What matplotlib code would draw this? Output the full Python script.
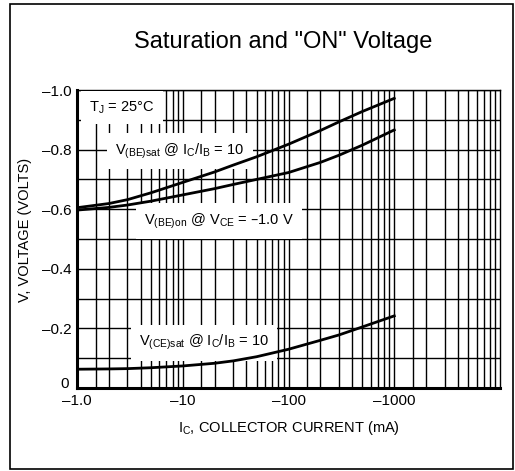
import matplotlib
matplotlib.use("Agg")
import matplotlib.pyplot as plt
from matplotlib.patches import Rectangle
import matplotlib.transforms as mtransforms
import numpy as np

plt.rcParams['font.family'] = ['Liberation Sans', 'DejaVu Sans']
plt.rcParams['mathtext.default'] = 'regular'

# collector current (mA, magnitude; shown as negative on the axis)
ic = [1, 2, 3, 5, 10, 20, 30, 50, 100, 200, 300, 500, 1000]
vbe_sat = [-0.605, -0.619, -0.632, -0.655, -0.690, -0.725, -0.748, -0.776, -0.818,
           -0.864, -0.893, -0.928, -0.972]
vbe_on = [-0.597, -0.606, -0.614, -0.627, -0.648, -0.669, -0.683, -0.700, -0.723,
          -0.757, -0.781, -0.815, -0.866]
vce_sat = [-0.063, -0.064, -0.065, -0.068, -0.074, -0.083, -0.091, -0.105, -0.130,
           -0.160, -0.178, -0.205, -0.242]

x_ticks = [1, 10, 100, 1000]
x_tick_labels = ["\u20131.0", "\u201310", "\u2013100", "\u20131000"]
y_ticks = [0, -0.2, -0.4, -0.6, -0.8, -1.0]
y_tick_labels = ["0", "\u20130.2", "\u20130.4", "\u20130.6", "\u20130.8", "\u20131.0"]

fig = plt.figure(figsize=(5.15, 4.71), dpi=100)
ax = fig.add_axes([77/515, 1 - 388/471, (500-77)/515, 298/471])

ax.set_xscale('log')
ax.set_xlim(1, 10000)
ax.set_ylim(0, -1.0)

minor_x = [m * 10**d for d in range(4) for m in [1.5, 2, 3, 4, 5, 6, 7, 8, 9]]
ax.set_xticks(x_ticks)
ax.set_xticklabels(x_tick_labels)
ax.set_xticks(minor_x, minor=True)
ax.set_yticks(y_ticks)
ax.set_yticklabels(y_tick_labels)
ax.set_yticks(np.arange(-0.1, -1.0, -0.2), minor=True)
ax.tick_params(which='both', length=0, labelsize=11, pad=4)
ax.tick_params(axis='x', which='minor', labelbottom=False)
ax.grid(True, which='both', color='black', lw=1.0)
ax.set_axisbelow(True)

# nudge the "0" label up/left so it sits clear of the "-1.0" x label
zero_lbl = ax.get_yticklabels()[0]
zero_lbl.set_transform(zero_lbl.get_transform() +
                       mtransforms.ScaledTranslation(-3/100, 5/100, fig.dpi_scale_trans))

for s in ['left', 'bottom']:
    ax.spines[s].set_linewidth(2.2)
for s in ['top', 'right']:
    ax.spines[s].set_linewidth(1.0)

ax.plot(ic, vbe_sat, color='black', lw=2.0, zorder=5)
ax.plot(ic, vbe_on, color='black', lw=2.0, zorder=5)
ax.plot(ic, vce_sat, color='black', lw=2.0, zorder=5)

box = dict(facecolor='white', edgecolor='none', pad=6)
ax.text(0.106, 0.94, "T$_J$ = 25°C", transform=ax.transAxes, ha='center', va='center',
        fontsize=10.5, bbox=box, zorder=4)
ax.text(0.243, 0.795, "V$_{(BE)sat}$ @ I$_C$/I$_B$ = 10", transform=ax.transAxes,
        ha='center', va='center', fontsize=10.5, bbox=box, zorder=4)
ax.text(0.335, 0.56, "V$_{(BE)on}$ @ V$_{CE}$ = \u20131.0 V", transform=ax.transAxes,
        ha='center', va='center', fontsize=10.5, bbox=box, zorder=4)
ax.text(0.30, 0.152, "V$_{(CE)sat}$ @ I$_C$/I$_B$ = 10", transform=ax.transAxes,
        ha='center', va='center', fontsize=10.5, bbox=box, zorder=4)

ax.set_xlabel("I$_C$, COLLECTOR CURRENT (mA)", fontsize=10.5, labelpad=8)
ax.set_ylabel("V, VOLTAGE (VOLTS)", fontsize=10.5)
ax.yaxis.set_label_coords(-0.106, 0.53)

fig.text(283/515, 1 - 42/471, 'Saturation and "ON" Voltage', ha='center', va='center', fontsize=17)

fig.patches.append(Rectangle((10/515, 2/471), 503/515, 465/471, transform=fig.transFigure,
                             fill=False, edgecolor='black', lw=1.2))

fig.savefig("out.png", dpi=100)
